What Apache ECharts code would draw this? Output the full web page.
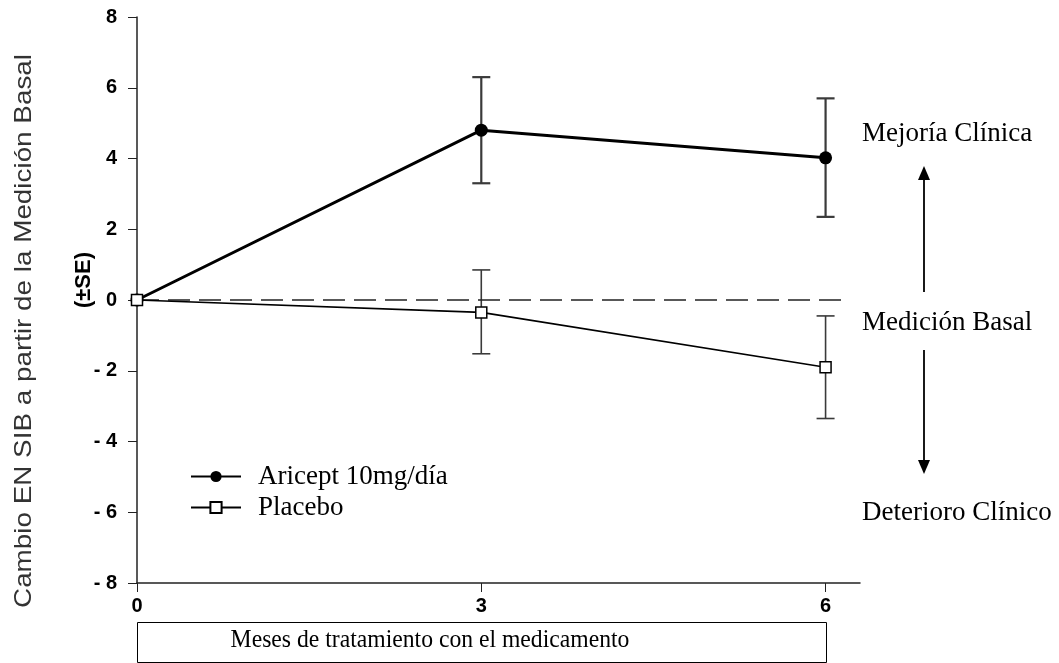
<!DOCTYPE html>
<html>
<head>
<meta charset="utf-8">
<script src="https://cdn.jsdelivr.net/npm/echarts@6/dist/echarts.min.js"></script>
<style>html,body{margin:0;padding:0;background:#fff}#c{width:1059px;height:663px}</style>
</head>
<body>
<div id="c"></div>
<script>
const months = [0, 3, 6];
const xTicks = [0, 3, 6];
const yTicks = [-8, -6, -4, -2, 0, 2, 4, 6, 8];
const aricept = [0, 4.8, 4.02];
const ariceptLow = [0, 3.3, 2.35];
const ariceptHigh = [0, 6.3, 5.7];
const placebo = [0, -0.35, -1.9];
const placeboLow = [0, -1.52, -3.35];
const placeboHigh = [0, 0.85, -0.45];
const seriesNames = ['Aricept 10mg/día', 'Placebo'];

const chart = echarts.init(document.getElementById('c'));
const serif = '"Liberation Serif", "DejaVu Serif", serif';
const sans = '"Liberation Sans", Arial, sans-serif';

function errData(low, high) {
  return months.map((m, i) => [m, low[i], high[i]]).filter((d, i) => i > 0);
}
function errRender(width) {
  return function (params, api) {
    const x = api.value(0);
    const lo = api.coord([x, api.value(1)]);
    const hi = api.coord([x, api.value(2)]);
    const half = 9;
    const style = { stroke: '#3a3a3a', lineWidth: width };
    return {
      type: 'group',
      children: [
        { type: 'line', shape: { x1: lo[0], y1: lo[1], x2: hi[0], y2: hi[1] }, style },
        { type: 'line', shape: { x1: lo[0] - half, y1: lo[1], x2: lo[0] + half, y2: lo[1] }, style },
        { type: 'line', shape: { x1: hi[0] - half, y1: hi[1], x2: hi[0] + half, y2: hi[1] }, style }
      ]
    };
  };
}

const option = {
  animation: false,
  backgroundColor: '#fff',
  grid: { left: 137, top: 17, right: 199, bottom: 80, containLabel: false },
  xAxis: {
    type: 'value', min: 0, max: 6.3, interval: 3,
    axisLine: { onZero: false, lineStyle: { color: '#222', width: 1.5 } },
    axisTick: { show: true, length: 9, lineStyle: { color: '#222' } },
    axisLabel: { fontFamily: sans, fontWeight: 'bold', fontSize: 20, color: '#000', margin: 13,
      showMaxLabel: false,
      formatter: v => xTicks.includes(v) ? String(v) : '' },
    splitLine: { show: false }
  },
  yAxis: {
    type: 'value', min: -8, max: 8, interval: 2,
    axisLine: { show: true, onZero: false, lineStyle: { color: '#222', width: 1.5 } },
    axisTick: { show: true, length: 9, lineStyle: { color: '#222' } },
    axisLabel: { fontFamily: sans, fontWeight: 'bold', fontSize: 20, color: '#000', margin: 20,
      formatter: v => yTicks.includes(v) ? (v < 0 ? '- ' + Math.abs(v) : String(v)) : '' },
    splitLine: { show: false }
  },
  legend: {
    orient: 'vertical', left: 190, top: 463, padding: 0, itemGap: 4, itemWidth: 50, itemHeight: 14,
    data: seriesNames,
    textStyle: { fontFamily: serif, fontSize: 27, lineHeight: 26, color: '#000', padding: [0, 0, 0, 12] }
  },
  series: [
    {
      name: seriesNames[0], type: 'line',
      data: months.map((m, i) => [m, aricept[i]]),
      symbol: 'circle', symbolSize: 13,
      lineStyle: { color: '#000', width: 3 },
      itemStyle: { color: '#000' },
      z: 5,
      markLine: {
        silent: true, symbol: 'none', label: { show: false },
        lineStyle: { color: '#222', type: [22, 9], width: 1.5 },
        data: [[{ coord: [0, 0] }, { coord: [6.16, 0] }]]
      }
    },
    {
      name: seriesNames[1], type: 'line',
      data: months.map((m, i) => [m, placebo[i]]),
      symbol: 'rect', symbolSize: 11,
      lineStyle: { color: '#000', width: 1.6 },
      itemStyle: { color: '#fff', borderColor: '#000', borderWidth: 1.5 },
      z: 5
    },
    { type: 'custom', renderItem: errRender(2.2), data: errData(ariceptLow, ariceptHigh), z: 3, silent: true },
    { type: 'custom', renderItem: errRender(1.6), data: errData(placeboLow, placeboHigh), z: 3, silent: true }
  ],
  graphic: [
    { type: 'text', x: 24, y: 331, rotation: Math.PI / 2, scaleX: 1.16,
      style: { text: 'Cambio EN SIB a partir de la Medición Basal', fontFamily: sans, fontSize: 24,
        fill: '#333', align: 'center', verticalAlign: 'middle' } },
    { type: 'text', x: 84, y: 280, rotation: Math.PI / 2,
      style: { text: '(±SE)', fontFamily: sans, fontSize: 22, fontWeight: 'bold',
        fill: '#000', align: 'center', verticalAlign: 'middle' } },
    { type: 'text', x: 862, y: 134, style: { text: 'Mejoría Clínica', fontFamily: serif, fontSize: 27, fill: '#000', verticalAlign: 'middle' } },
    { type: 'text', x: 862, y: 323, style: { text: 'Medición Basal', fontFamily: serif, fontSize: 27, fill: '#000', verticalAlign: 'middle' } },
    { type: 'text', x: 862, y: 513, style: { text: 'Deterioro Clínico', fontFamily: serif, fontSize: 27, fill: '#000', verticalAlign: 'middle' } },
    { type: 'line', shape: { x1: 924, y1: 292, x2: 924, y2: 178 }, style: { stroke: '#000', lineWidth: 1.8 } },
    { type: 'polygon', shape: { points: [[924, 166], [918, 180], [930, 180]] }, style: { fill: '#000' } },
    { type: 'line', shape: { x1: 924, y1: 350, x2: 924, y2: 461 }, style: { stroke: '#000', lineWidth: 1.8 } },
    { type: 'polygon', shape: { points: [[924, 474], [918, 460], [930, 460]] }, style: { fill: '#000' } },
    { type: 'rect', shape: { x: 137.5, y: 622.5, width: 689, height: 40 }, style: { fill: '#fff', stroke: '#000', lineWidth: 1 } },
    { type: 'text', x: 430, y: 640, scaleX: 0.91, style: { text: 'Meses de tratamiento con el medicamento', fontFamily: serif, fontSize: 26, fill: '#000', align: 'center', verticalAlign: 'middle' } }
  ]
};
chart.setOption(option);
</script>
</body>
</html>
